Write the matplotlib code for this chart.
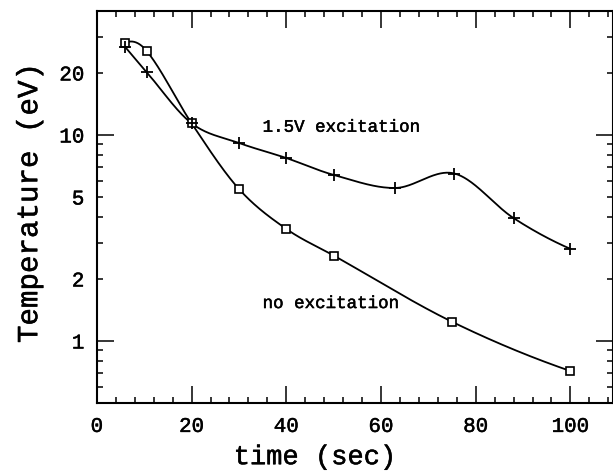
import numpy as np
import matplotlib
matplotlib.use("Agg")
import matplotlib.pyplot as plt
import matplotlib.patheffects as pe
from matplotlib.ticker import FixedLocator, FixedFormatter

# readings from the figure
t_none = [6, 10.5, 20, 30, 40, 50, 75, 100]
T_none = [28.0, 25.6, 11.4, 5.47, 3.5, 2.6, 1.24, 0.715]

t_exc = [6, 10.5, 20, 30, 40, 50, 63, 75.5, 88, 100]
T_exc = [26.7, 20.2, 11.4, 9.15, 7.73, 6.4, 5.53, 6.5, 3.95, 2.8]

x_ticks = [0, 20, 40, 60, 80, 100]
y_labels = {1: "1", 2: "2", 5: "5", 10: "10", 20: "20"}


def smooth(x, y, n=60):
    # cubic Hermite curve, Catmull-Rom style slopes
    x = np.asarray(x, float)
    y = np.asarray(y, float)
    h = np.diff(x)
    d = np.diff(y) / h
    m = np.empty_like(y)
    m[1:-1] = (y[2:] - y[:-2]) / (x[2:] - x[:-2])
    m[0] = 2 * d[0] - m[1]
    m[-1] = 2 * d[-1] - m[-2]
    xs_all, ys_all = [], []
    for i in range(len(h)):
        s = np.linspace(0, 1, n)
        h00 = 2 * s**3 - 3 * s**2 + 1
        h10 = s**3 - 2 * s**2 + s
        h01 = -2 * s**3 + 3 * s**2
        h11 = s**3 - s**2
        ys = h00 * y[i] + h10 * h[i] * m[i] + h01 * y[i + 1] + h11 * h[i] * m[i + 1]
        xs_all.append(x[i] + s * h[i])
        ys_all.append(ys)
    return np.concatenate(xs_all), np.concatenate(ys_all)


plt.rcParams["font.family"] = "Liberation Mono"
heavier = [pe.withStroke(linewidth=0.35, foreground="black")]

fig = plt.figure(figsize=(6.13, 4.77), dpi=100)
ax = fig.add_axes([0.158, 0.153, 0.842, 0.822])
ax.set_yscale("log")

for t, T in [(t_none, T_none), (t_exc, T_exc)]:
    xs, ys = smooth(t, np.log10(T))
    ax.plot(xs, 10 ** ys, color="black", lw=1.3)
ax.plot(t_none, T_none, ls="none", marker="s", ms=6, mfc="white", mec="black", mew=1.2)
ax.plot(t_exc, T_exc, ls="none", marker="+", ms=8, mec="black", mew=1.3)

ax.set_xlim(0, 109)
ax.set_ylim(0.5, 40)

ax.xaxis.set_major_locator(FixedLocator(x_ticks))
ax.xaxis.set_minor_locator(FixedLocator([v for v in range(0, 112, 4) if v % 20]))
ax.yaxis.set_major_locator(FixedLocator([1, 10]))
ax.yaxis.set_major_formatter(FixedFormatter(["1", "10"]))
minor_y = [0.6, 0.7, 0.8, 0.9] + list(range(2, 10)) + [20, 30, 40]
ax.yaxis.set_minor_locator(FixedLocator(minor_y))
ax.yaxis.set_minor_formatter(FixedFormatter([y_labels.get(v, "") for v in minor_y]))

ax.tick_params(which="both", direction="in", top=True, right=True,
               labelsize=15, color="black", width=1.1)
ax.tick_params(which="major", length=12)
ax.tick_params(which="minor", length=4)
ax.tick_params(axis="x", which="both", pad=10)
ax.tick_params(axis="y", which="both", pad=9)

for s in ax.spines.values():
    s.set_linewidth(1.5)

ax.set_xlabel("time (sec)", fontsize=19.5, path_effects=heavier)
ax.xaxis.set_label_coords(0.4225, -0.105)
ax.set_ylabel("Temperature (eV)", fontsize=21, path_effects=heavier)
ax.yaxis.set_label_coords(-0.104, 0.51)

ax.text(35, 10.9, "1.5V excitation", fontsize=12.6, va="center", ha="left",
        path_effects=heavier)
ax.text(35, 1.52, "no excitation", fontsize=12.6, va="center", ha="left",
        path_effects=heavier)

for lab in ax.get_xticklabels(which="both") + ax.get_yticklabels(which="both"):
    lab.set_path_effects(heavier)

fig.savefig("out.png", dpi=100)
